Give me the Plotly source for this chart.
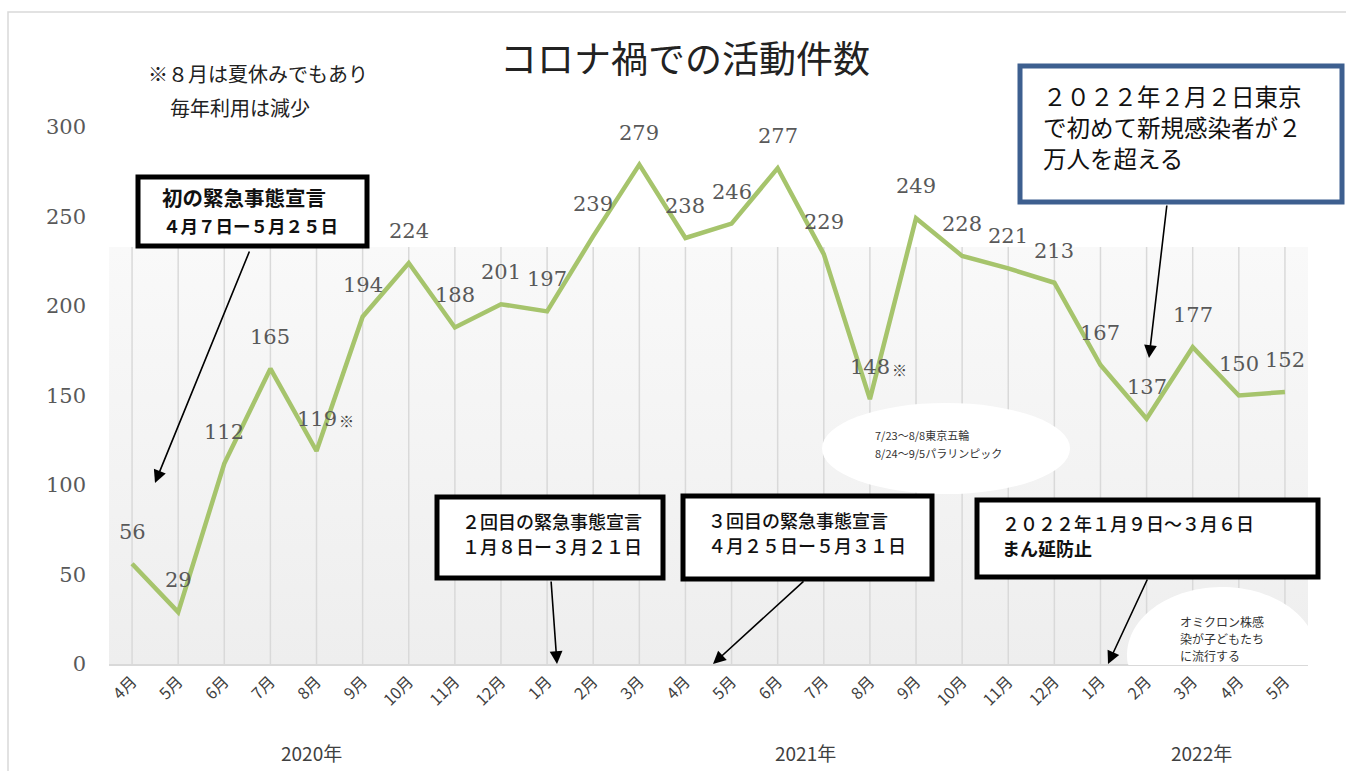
import plotly.graph_objects as go
import numpy as np

# ---------------- data ----------------
months = ["4月", "5月", "6月", "7月", "8月", "9月", "10月", "11月", "12月",
          "1月", "2月", "3月", "4月", "5月", "6月", "7月", "8月", "9月", "10月", "11月", "12月",
          "1月", "2月", "3月", "4月", "5月"]
counts = [56, 29, 112, 165, 119, 194, 224, 188, 201,
          197, 239, 279, 238, 246, 277, 229, 148, 249, 228, 221, 213,
          167, 137, 177, 150, 152]
noted_idx = [4, 16]                      # months marked with ※
years = ["2020年", "2021年", "2022年"]
year_pos = [3.9, 14.6, 23.2]             # category position of each year label
yticks = [0, 50, 100, 150, 200, 250, 300]

title = "コロナ禍での活動件数"
note_lines = ["※８月は夏休みでもあり", "毎年利用は減少"]
box1 = ["初の緊急事態宣言", "４月７日ー５月２５日"]
box2 = ["２回目の緊急事態宣言", "１月８日ー３月２１日"]
box3 = ["３回目の緊急事態宣言", "４月２５日ー５月３１日"]
box4 = ["２０２２年１月９日～３月６日", "まん延防止"]
blue_lines = ["２０２２年２月２日東京", "で初めて新規感染者が２", "万人を超える"]
olymp_lines = ["7/23～8/8東京五輪", "8/24～9/5パラリンピック"]
omi_lines = ["オミクロン株感", "染が子どもたち", "に流行する"]

# ---------------- geometry helpers (screen pixels) ----------------
W, H = 1346, 771
L, R, T, B = 109, 1308, 127, 664         # plot area on screen
GRID_TOP = 233


def px(x):
    return (x - L) / (R - L)


def py(y):
    return (B - y) / (B - T)


JP = "Noto Sans CJK JP"
SERIF = "DejaVu Serif"
idx = list(range(len(months)))

fig = go.Figure()

# gradient background area
fig.add_trace(go.Scatter(
    x=[-0.5, 25.5, 25.5, -0.5, -0.5], y=[0, 0, GRID_TOP, GRID_TOP, 0],
    mode="lines", fill="toself", line=dict(width=0),
    fillgradient=dict(type="vertical", colorscale=[[0, "#eeeeee"], [1, "#f9f9f9"]]),
    hoverinfo="skip", showlegend=False))

# vertical grid lines at each category
gx, gy = [], []
for i in idx:
    gx += [i, i, None]
    gy += [0, GRID_TOP, None]
fig.add_trace(go.Scatter(x=gx, y=gy, mode="lines",
                         line=dict(color="#d9d9d9", width=1.5),
                         hoverinfo="skip", showlegend=False))

# main line
fig.add_trace(go.Scatter(x=idx, y=counts, mode="lines",
                         line=dict(color="#a6c46c", width=4.5),
                         showlegend=False))

annotations = []
# data labels
for i, v in zip(idx, counts):
    annotations.append(dict(x=i, y=v, xref="x", yref="y", text=str(v), showarrow=False,
                            xanchor="center", yanchor="middle", yshift=32,
                            font=dict(family=SERIF, size=21, color="#595959")))
for i in noted_idx:
    annotations.append(dict(x=i, y=counts[i], xref="x", yref="y", text="※", showarrow=False,
                            xanchor="left", yanchor="middle", xshift=20, yshift=30,
                            font=dict(family=JP, size=15, color="#404040")))
# year labels
for yr, p in zip(years, year_pos):
    annotations.append(dict(x=p, y=py(752), xref="x", yref="paper", text=yr, showarrow=False,
                            xanchor="center", yanchor="middle",
                            font=dict(family=JP, size=19, color="#404040")))


def center_text(xc, yc, txt, size, color="#222222"):
    annotations.append(dict(x=px(xc), y=py(yc), xref="paper", yref="paper", text=txt,
                            showarrow=False, xanchor="center", yanchor="middle",
                            font=dict(family=JP, size=size, color=color)))


center_text(685, 57, title, 37)
center_text(258, 74, note_lines[0], 20)
center_text(240, 107, note_lines[1], 20)


def text_line(xl, yc, txt, size, weight="normal", family=JP, color="#111111"):
    annotations.append(dict(x=px(xl), y=py(yc), xref="paper", yref="paper", text=txt,
                            showarrow=False, xanchor="left", yanchor="middle",
                            font=dict(family=family, size=size, color=color, weight=weight)))


def arrow(head, tail):
    annotations.append(dict(x=px(head[0]), y=py(head[1]), xref="paper", yref="paper", text="",
                            showarrow=True, ax=tail[0] - head[0], ay=tail[1] - head[1],
                            arrowhead=2, arrowsize=1.6, arrowwidth=1.6, arrowcolor="black"))


text_line(160, 197, box1[0], 20.5, "bold")
text_line(161, 225, box1[1], 17.5, "bold")
text_line(460, 521, box2[0], 18, 500)
text_line(460, 546, box2[1], 18, 500)
text_line(706, 520, box3[0], 18, 500)
text_line(706, 545, box3[1], 18, 500)
text_line(1000, 523, box4[0], 18, 500)
text_line(1000, 548, box4[1], 18, "bold")
for k, t in enumerate(blue_lines):
    text_line(1041, 96 + 31 * k, t, 23.5, "normal", color="#111111")
for k, t in enumerate(olymp_lines):
    text_line(873, 435 + 18 * k, t, 11, "normal", color="#333333")
for k, t in enumerate(omi_lines):
    text_line(1178, 621 + 17 * k, t, 12, "normal", color="#333333")

arrow((155, 483), (250, 250))
arrow((557, 664), (551, 580))
arrow((713, 664), (805, 580))
arrow((1108, 664), (1148, 578))
arrow((1149, 358), (1167, 204))

shapes = []
# outer light border
shapes.append(dict(type="rect", xref="paper", yref="paper", x0=px(8), x1=px(1400), y0=py(12), y1=py(800),
                   line=dict(color="#d9d9d9", width=1.5), fillcolor="rgba(0,0,0,0)", layer="below"))

# ellipses (drawn before boxes)
shapes.append(dict(type="circle", xref="paper", yref="paper", x0=px(822), x1=px(1070), y0=py(494), y1=py(403),
                   line=dict(width=0), fillcolor="white", layer="above"))
t = np.linspace(0, 2 * np.pi, 120)
ex = 1222 + 95 * np.cos(t)
ey = np.minimum(655 + 68 * np.sin(t), 665)
path = "M " + " L ".join(f"{px(a):.5f},{py(b):.5f}" for a, b in zip(ex, ey)) + " Z"
shapes.append(dict(type="path", xref="paper", yref="paper", path=path,
                   line=dict(width=0), fillcolor="white", layer="above"))


def rect(x0, y0, x1, y1, color="black", width=5):
    shapes.append(dict(type="rect", xref="paper", yref="paper", x0=px(x0), x1=px(x1), y0=py(y1), y1=py(y0),
                       line=dict(color=color, width=width), fillcolor="white", layer="above"))


rect(138, 177, 367, 246)
rect(437, 497, 663, 578)
rect(683, 496, 932, 579)
rect(977, 500, 1318, 577)
rect(1020, 66, 1342, 202, color="#3d5f8f", width=5)

fig.update_layout(
    width=W, height=H,
    margin=dict(l=L, r=W - R, t=T, b=H - B, pad=0),
    paper_bgcolor="white", plot_bgcolor="white",
    showlegend=False,
    xaxis=dict(range=[-0.5, 25.5], tickmode="array", tickvals=idx, ticktext=months,
               tickangle=-45, showgrid=False, zeroline=False,
               showline=True, linecolor="#d9d9d9", linewidth=2,
               tickfont=dict(family=JP, size=16, color="#404040"), fixedrange=True),
    yaxis=dict(range=[0, 300], tickmode="array", tickvals=yticks, showgrid=False, zeroline=False,
               showline=False, ticklabelstandoff=22,
               tickfont=dict(family=SERIF, size=21, color="#595959"), fixedrange=True),
    annotations=annotations,
    shapes=shapes,
)

fig.write_html(
    "out.html",
    config={"displayModeBar": False, "staticPlot": False},
    post_script="document.body.style.margin='0px';"
                "document.documentElement.style.overflow='hidden';"
                "document.body.style.overflow='hidden';",
)
